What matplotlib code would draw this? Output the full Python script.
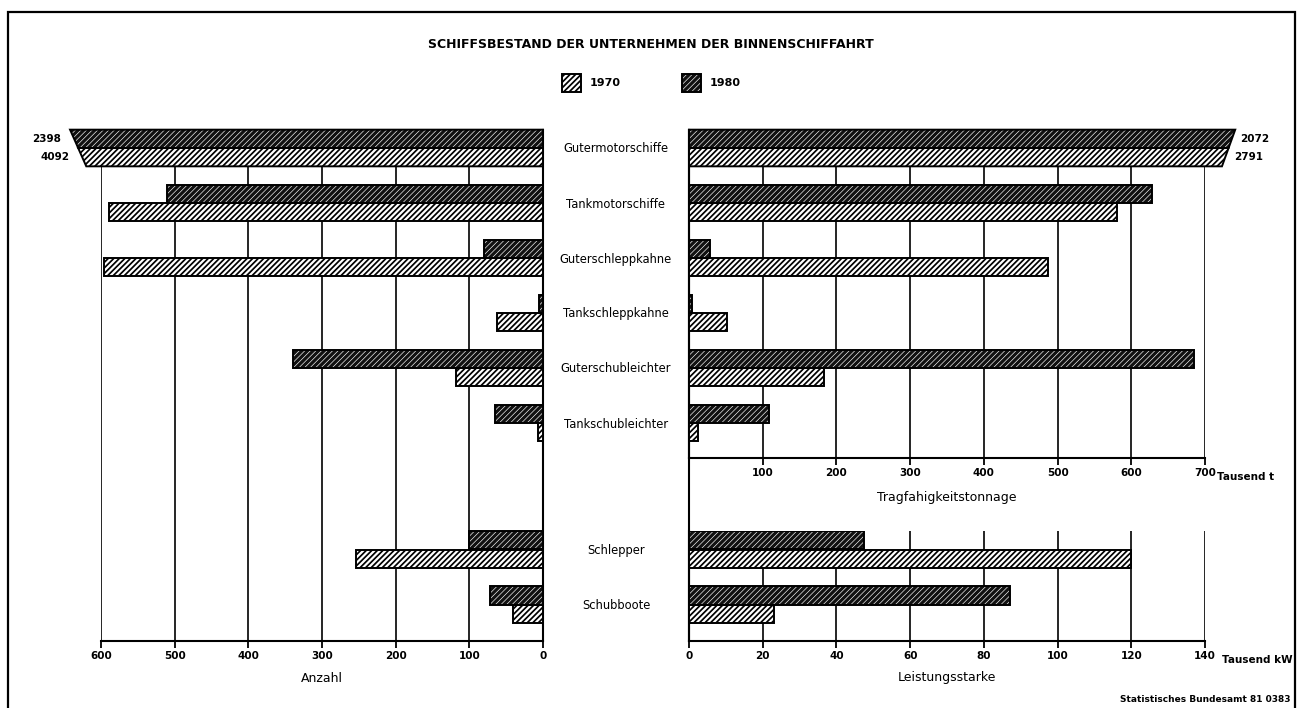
import numpy as np
import matplotlib
matplotlib.use('Agg')
import matplotlib.pyplot as plt
from matplotlib.patches import Rectangle

plt.rcParams['font.family'] = ['DejaVu Sans']
plt.rcParams['hatch.linewidth'] = 1.0

#%% data
categories = ['Gutermotorschiffe', 'Tankmotorschiffe', 'Guterschleppkahne',
              'Tankschleppkahne', 'Guterschubleichter', 'Tankschubleichter',
              'Schlepper', 'Schubboote']
years = ['1970', '1980']

# Anzahl (all eight categories)
anzahl_1970 = [4092, 589, 596, 62, 118, 7, 254, 41]
anzahl_1980 = [2398, 511, 80, 5, 340, 65, 100, 72]

# Tragfaehigkeitstonnage, Tausend t (first six categories)
tonnage_1970 = [2791, 581, 487, 52, 183, 12]
tonnage_1980 = [2072, 628, 28, 4, 685, 108]

# Leistungsstaerke, Tausend kW (Schlepper, Schubboote)
leistung_1970 = [120, 23]
leistung_1980 = [47.5, 87]

anzahl_ticks = [600, 500, 400, 300, 200, 100, 0]
tonnage_ticks = [100, 200, 300, 400, 500, 600, 700]
leistung_ticks = [0, 20, 40, 60, 80, 100, 120, 140]

#%% layout
W, H = 1302, 708
row_pos = [0, 1, 2, 3, 4, 5, 7.3, 8.3]   # row centres in row units
ROW0, ROWH = 148, 55                      # pixel of row 0, pixels per row
bh = 1 / 3                                # height of one bar in row units

def py2u(py):
    return (py - ROW0) / ROWH

def u2py(u):
    return ROW0 + ROWH * u

def box(x0, y0, x1, y1):
    return [x0 / W, 1 - y1 / H, (x1 - x0) / W, (y1 - y0) / H]

# per-artist hatch linewidth exists in newer matplotlib
PER_ARTIST = hasattr(matplotlib.patches.Patch, 'set_hatch_linewidth')
style = {
    '1970': dict(fc='white', hc='black', hlw=1.25, hatch='/' * 6),
    '1980': dict(fc='#111111', hc='white', hlw=0.45, hatch='/' * 6),
}

def hatch_lw(artists, year):
    if PER_ARTIST:
        for a in artists:
            a.set_hatch_linewidth(style[year]['hlw'])

fig = plt.figure(figsize=(W / 100, H / 100), dpi=100)

# overlay in pixel coordinates for frame and free text
ov = fig.add_axes([0, 0, 1, 1])
ov.set_xlim(0, W)
ov.set_ylim(H, 0)
ov.axis('off')

def draw_bars(ax, pos, vals, year, offset):
    s = style[year]
    y = np.array(pos) + offset
    bars = ax.barh(y, vals, height=bh, color=s['fc'], edgecolor=s['hc'],
                   hatch=s['hatch'], linewidth=0, zorder=3)
    hatch_lw(bars, year)
    ax.barh(y, vals, height=bh, fill=False, edgecolor='black',
            linewidth=1.4, zorder=4)

def draw_broken(ax, u, year, offset, x_top, x_bot):
    # bar running past the axis, ends in a slanted cut
    s = style[year]
    y0 = u + offset - bh / 2
    y1 = u + offset + bh / 2
    xs = [0, x_top, x_bot, 0]
    ys = [y0, y0, y1, y1]
    p = ax.fill(xs, ys, facecolor=s['fc'], edgecolor=s['hc'],
                hatch=s['hatch'], linewidth=0, zorder=3, clip_on=False)
    hatch_lw(p, year)
    ax.fill(xs, ys, fill=False, edgecolor='black', linewidth=1.4,
            zorder=4, clip_on=False)

def setup(ax, xlim, ticks, labels, ylim, spines):
    ax.set_xlim(*xlim)
    ax.set_ylim(*ylim)
    ax.set_facecolor('none')
    ax.set_xticks(ticks)
    ax.set_xticklabels(labels, fontsize=7.5, fontweight='bold')
    ax.set_yticks([])
    ax.tick_params(axis='x', direction='out', length=5, width=1.3, pad=2.5)
    ax.grid(axis='x', color='black', linewidth=1.2, zorder=0)
    ax.set_axisbelow(True)
    for k, sp in ax.spines.items():
        sp.set_visible(k in spines)
        sp.set_linewidth(1.5)

#%% left panel: Anzahl
axl = fig.add_axes(box(101, 130, 543, 641))
setup(axl, (600, 0), anzahl_ticks, [str(t) for t in anzahl_ticks],
      (py2u(641), py2u(130)), ['bottom', 'right'])

cut_l = [(642, 631), (631, 620)]   # slanted cut for bars past 600
for vals, yr, off, cut in [(anzahl_1980, '1980', -bh / 2, cut_l[0]),
                           (anzahl_1970, '1970', bh / 2, cut_l[1])]:
    normal = [(p, v) for p, v in zip(row_pos, vals) if v <= 600]
    draw_bars(axl, [p for p, v in normal], [v for p, v in normal], yr, off)
    for p, v in zip(row_pos, vals):
        if v > 600:
            draw_broken(axl, p, yr, off, cut[0], cut[1])
            axl.text(cut[0] + 12, p + off, f'{v}', ha='right', va='center',
                     fontsize=7.5, fontweight='bold', clip_on=False)

#%% right upper panel: Tragfaehigkeit
axu = fig.add_axes(box(689, 130, 1205, 458))
setup(axu, (0, 700), tonnage_ticks, [str(t) for t in tonnage_ticks],
      (py2u(458), py2u(130)), ['bottom', 'left'])

cut_r = [(741, 732), (732, 723)]
rows_u = row_pos[:6]
for vals, yr, off, cut in [(tonnage_1980, '1980', -bh / 2, cut_r[0]),
                           (tonnage_1970, '1970', bh / 2, cut_r[1])]:
    normal = [(p, v) for p, v in zip(rows_u, vals) if v <= 700]
    draw_bars(axu, [p for p, v in normal], [v for p, v in normal], yr, off)
    for p, v in zip(rows_u, vals):
        if v > 700:
            draw_broken(axu, p, yr, off, cut[0], cut[1])
            axu.text(cut[0] + 7, p + off, f'{v}', ha='left', va='center',
                     fontsize=7.5, fontweight='bold', clip_on=False)

#%% right lower panel: Leistungsstaerke
axd = fig.add_axes(box(689, 531, 1205, 641))
setup(axd, (0, 140), leistung_ticks, [str(t) for t in leistung_ticks],
      (py2u(641), py2u(531)), ['bottom', 'left'])
rows_d = row_pos[6:]
draw_bars(axd, rows_d, leistung_1980, '1980', -bh / 2)
draw_bars(axd, rows_d, leistung_1970, '1970', bh / 2)

#%% frame, title, legend, labels
ov.plot([8, 8, 1295, 1295], [H, 12, 12, H], color='black', lw=1.6,
        solid_joinstyle='miter')
ov.plot([689, 689], [130, 641], color='black', lw=1.5)

ov.text(651, 45, 'SCHIFFSBESTAND DER UNTERNEHMEN DER BINNENSCHIFFAHRT',
        ha='center', va='center', fontsize=9, fontweight='bold')

for yr, x in zip(years, [562, 682]):
    s = style[yr]
    r = ov.add_patch(Rectangle((x, 74), 19, 18, facecolor=s['fc'],
                               edgecolor=s['hc'], hatch=s['hatch'], lw=0))
    hatch_lw([r], yr)
    ov.add_patch(Rectangle((x, 74), 19, 18, fill=False, edgecolor='black',
                           lw=1.4))
    ov.text(x + 28, 83, yr, ha='left', va='center', fontsize=8,
            fontweight='bold')

for name, p in zip(categories, row_pos):
    ov.text(616, u2py(p) + 1, name, ha='center', va='center', fontsize=8.3)

ov.text(1217, 477, 'Tausend t', ha='left', va='center', fontsize=7.5,
        fontweight='bold')
ov.text(1222, 660, 'Tausend kW', ha='left', va='center', fontsize=7.5,
        fontweight='bold')

ov.text(322, 678, 'Anzahl', ha='center', va='center', fontsize=9)
ov.text(947, 678, 'Leistungsstarke', ha='center', va='center', fontsize=9)
ov.text(947, 497, 'Tragfahigkeitstonnage', ha='center', va='center',
        fontsize=9)

ov.text(1290, 699, 'Statistisches Bundesamt 81 0383', ha='right',
        va='center', fontsize=6.5, fontweight='bold')

fig.savefig('out.png', dpi=100)
